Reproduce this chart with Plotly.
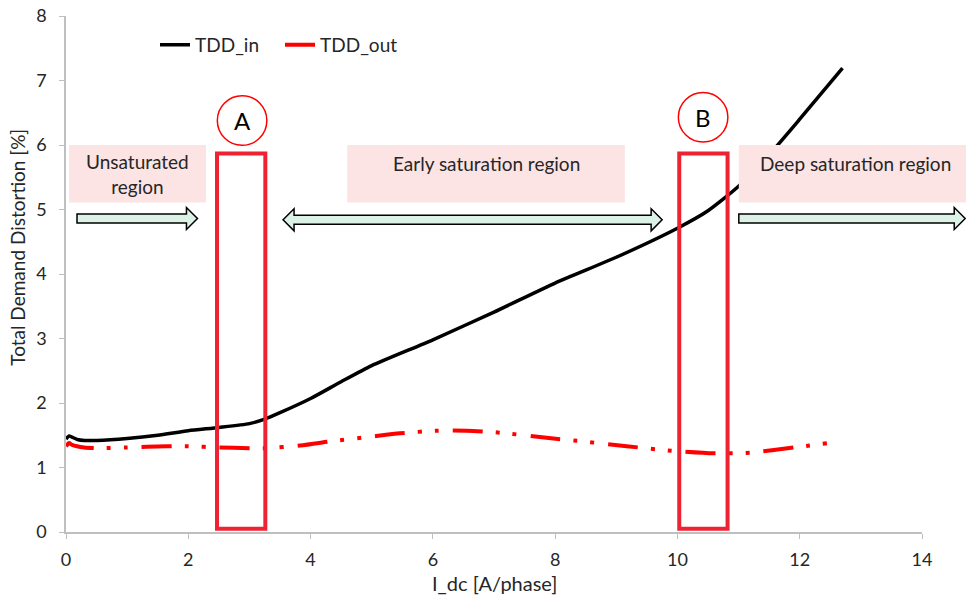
import plotly.graph_objects as go

# ---- data ----
tdd_in_x = [0, 0.05, 0.1, 0.2, 0.3, 0.5, 1.0, 1.5, 2.0, 2.5, 3.0, 3.25, 3.5, 4.0, 4.5,
            5.0, 6.0, 7.0, 8.0, 9.0, 10.0, 10.5, 11.0, 11.5, 12.0, 12.7]
tdd_in_y = [1.44, 1.49, 1.47, 1.43, 1.42, 1.42, 1.45, 1.50, 1.57, 1.62, 1.68, 1.75, 1.85, 2.07, 2.33,
            2.58, 2.98, 3.41, 3.86, 4.26, 4.71, 4.98, 5.36, 5.85, 6.40, 7.19]

tdd_out_x = [0, 0.05, 0.1, 0.3, 0.6, 1.0, 1.65, 2.0, 2.5, 3.0, 3.25, 3.83, 4.37, 5.0, 5.46,
             6.06, 6.55, 7.1, 7.86, 8.5, 9.17, 9.9, 10.59, 11.19, 11.9, 12.47]
tdd_out_y = [1.33, 1.38, 1.35, 1.31, 1.30, 1.31, 1.33, 1.33, 1.31, 1.30, 1.30, 1.34, 1.41, 1.48, 1.53,
             1.57, 1.57, 1.54, 1.46, 1.40, 1.33, 1.26, 1.22, 1.23, 1.31, 1.38]

x_ticks = [0, 2, 4, 6, 8, 10, 12, 14]
y_ticks = [0, 1, 2, 3, 4, 5, 6, 7, 8]

FONT = "Lato"
TXT = "#262626"

fig = go.Figure()
fig.add_trace(go.Scatter(x=tdd_in_x, y=tdd_in_y, mode="lines", name="TDD_in",
                         line=dict(color="black", width=3.5, shape="spline", smoothing=0.6)))
fig.add_trace(go.Scatter(x=tdd_out_x, y=tdd_out_y, mode="lines", name="TDD_out",
                         line=dict(color="#FF0000", width=4, shape="spline", smoothing=0.6,
                                   dash="30px,13px,4px,13px,4px,14px")))

shapes = []
annotations = []

# pink label boxes
PINK = "#FCE4E4"
shapes.append(dict(type="rect", xref="x", yref="y", x0=0.05, x1=2.29, y0=5.11, y1=6.0,
                   fillcolor=PINK, line=dict(width=0), layer="above"))
shapes.append(dict(type="rect", xref="x", yref="y", x0=4.60, x1=9.14, y0=5.11, y1=6.0,
                   fillcolor=PINK, line=dict(width=0), layer="above"))
shapes.append(dict(type="rect", xref="paper", yref="y", x0=0.786, x1=1.06, y0=5.11, y1=6.0,
                   fillcolor=PINK, line=dict(width=0), layer="above"))

annotations.append(dict(x=1.17, y=5.55, xref="x", yref="y", text="Unsaturated<br>region",
                        showarrow=False, xanchor="center", yanchor="middle",
                        font=dict(family=FONT, size=19, color=TXT)))
annotations.append(dict(x=6.87, y=5.71, xref="x", yref="y", text="Early saturation region",
                        showarrow=False, xanchor="center", yanchor="middle",
                        font=dict(family=FONT, size=19, color=TXT)))
annotations.append(dict(x=0.922, y=5.71, xref="paper", yref="y", text="Deep saturation region",
                        showarrow=False, xanchor="center", yanchor="middle",
                        font=dict(family=FONT, size=19, color=TXT)))

# axis titles
annotations.append(dict(x=0.5, y=-0.0988, xref="paper", yref="paper", text="I_dc [A/phase]",
                        showarrow=False, xanchor="center", yanchor="middle",
                        font=dict(family=FONT, size=20, color=TXT)))
annotations.append(dict(x=-0.056, y=0.551, xref="paper", yref="paper", text="Total Demand Distortion [%]",
                        showarrow=False, textangle=-90, xanchor="center", yanchor="middle",
                        font=dict(family=FONT, size=19, color=TXT)))

# red rectangles A and B
RED = "#EE2233"
for x0, x1 in [(2.47, 3.26), (10.03, 10.82)]:
    shapes.append(dict(type="rect", xref="x", yref="y", x0=x0, x1=x1, y0=0.05, y1=5.87,
                       line=dict(color=RED, width=4), fillcolor="rgba(0,0,0,0)", layer="above"))

# circles
for cx, cy, lab in [(2.88, 6.38, "A"), (10.42, 6.43, "B")]:
    shapes.append(dict(type="circle", xref="x", yref="y", x0=cx - 0.405, x1=cx + 0.405,
                       y0=cy - 0.385, y1=cy + 0.385, line=dict(color="#FF0000", width=1.5),
                       fillcolor="white", layer="above"))
    annotations.append(dict(x=cx, y=cy, xref="x", yref="y", text=lab, showarrow=False,
                            xanchor="center", yanchor="middle",
                            font=dict(family=FONT, size=24, color="black")))

# arrows
GREEN = "#DDF2E6"
xu = 1 / 61.14   # data units per pixel (x)
yu = 1 / 64.5    # data units per pixel (y)


def arrow_path(xs, xe, yc, sx, both=False):
    sh = 4.5 * yu
    hh = 11 * yu
    hl = 11 * sx
    pts = []
    if both:
        pts += [(xs, yc), (xs + hl, yc + hh), (xs + hl, yc + sh)]
    else:
        pts += [(xs, yc + sh)]
    pts += [(xe - hl, yc + sh), (xe - hl, yc + hh), (xe, yc), (xe - hl, yc - hh), (xe - hl, yc - sh)]
    if both:
        pts += [(xs + hl, yc - sh), (xs + hl, yc - hh)]
    else:
        pts += [(xs, yc - sh)]
    return "M " + " L ".join(f"{px:.5f},{py:.5f}" for px, py in pts) + " Z"


shapes.append(dict(type="path", xref="x", yref="y", path=arrow_path(0.18, 2.15, 4.86, xu),
                   fillcolor=GREEN, line=dict(color="black", width=1.5), layer="above"))
shapes.append(dict(type="path", xref="x", yref="y", path=arrow_path(3.55, 9.75, 4.84, xu, both=True),
                   fillcolor=GREEN, line=dict(color="black", width=1.5), layer="above"))
shapes.append(dict(type="path", xref="paper", yref="y", path=arrow_path(0.786, 1.0505, 4.86, 1 / 856),
                   fillcolor=GREEN, line=dict(color="black", width=1.5), layer="above"))

fig.update_layout(
    width=966, height=602,
    margin=dict(l=66, r=44, t=16, b=70, autoexpand=False),
    paper_bgcolor="white", plot_bgcolor="white",
    font=dict(family=FONT, size=16, color=TXT),
    shapes=shapes, annotations=annotations,
    legend=dict(orientation="h", x=0.104, y=0.944, xanchor="left", yanchor="middle",
                bgcolor="rgba(0,0,0,0)", font=dict(family=FONT, size=19, color=TXT),
                itemwidth=30, entrywidth=80),
    xaxis=dict(range=[0, 14], tickvals=x_ticks, showgrid=False, zeroline=False,
               showline=True, linecolor="#BFBFBF", linewidth=1.5,
               ticks="outside", ticklen=5, tickcolor="#BFBFBF", automargin=False,
               ticklabelstandoff=6, ticklabeloverflow="allow",
               tickfont=dict(family=FONT, size=18, color=TXT)),
    yaxis=dict(range=[0, 8], tickvals=y_ticks, showgrid=False, zeroline=False,
               showline=True, linecolor="#BFBFBF", linewidth=1.5,
               ticks="outside", ticklen=5, tickcolor="#BFBFBF", automargin=False,
               ticklabelstandoff=9, ticklabeloverflow="allow",
               tickfont=dict(family=FONT, size=18, color=TXT)),
)

fig.write_html("out.html", config={"displayModeBar": False},
               post_script="document.body.style.margin='0';")
